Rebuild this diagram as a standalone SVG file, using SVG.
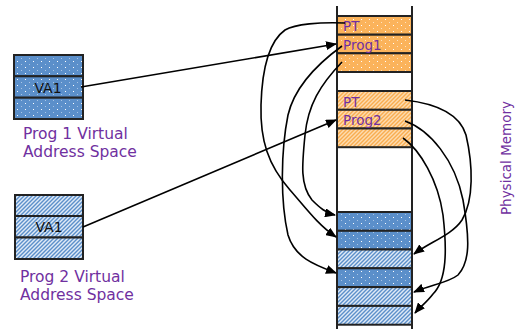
<svg xmlns="http://www.w3.org/2000/svg" width="520" height="329" viewBox="0 0 520 329">
<style>
.lbl{font-family:"DejaVu Sans","Liberation Sans",sans-serif;font-size:13.5px;fill:#7030a0}
.cap{font-family:"DejaVu Sans","Liberation Sans",sans-serif;font-size:15.5px;fill:#7030a0}
.va{font-family:"DejaVu Sans","Liberation Sans",sans-serif;font-size:14px;fill:#111;text-anchor:middle}
.row{stroke:#222;stroke-width:2}
.conn{fill:none;stroke:#000;stroke-width:1.6}
</style>
<defs>
<pattern id="dotO" width="8" height="6" patternUnits="userSpaceOnUse">
<rect width="8" height="6" fill="#fbb35b"/>
<rect x="1" y="1" width="1" height="1" fill="#fff"/>
<rect x="5" y="4" width="1" height="1" fill="#fde2bf"/>
</pattern>
<pattern id="dotB" width="8" height="6" patternUnits="userSpaceOnUse">
<rect width="8" height="6" fill="#5b8fca"/>
<rect x="1" y="1" width="1" height="1" fill="#fff"/>
<rect x="5" y="4" width="1" height="1" fill="#a9c5e6"/>
</pattern>
<pattern id="hatO" width="4" height="4" patternUnits="userSpaceOnUse">
<rect width="4" height="4" fill="#fddcb0"/>
<path d="M-1,1 L1,-1 M0,4 L4,0 M3,5 L5,3" stroke="#f9ad50" stroke-width="1.4"/>
</pattern>
<pattern id="hatB" width="4" height="4" patternUnits="userSpaceOnUse">
<rect width="4" height="4" fill="#dfeaf7"/>
<path d="M-1,1 L1,-1 M0,4 L4,0 M3,5 L5,3" stroke="#5b8fca" stroke-width="1.4"/>
</pattern>
<marker id="ah" markerWidth="11" markerHeight="9" refX="10" refY="4.5" orient="auto" markerUnits="userSpaceOnUse">
<path d="M0,0 L11,4.5 L0,9 z" fill="#000"/>
</marker>
</defs>

<g id="prog1-vas">
<rect x="14" y="55" width="69" height="21.3" fill="url(#dotB)" class="row"/>
<rect x="14" y="76.3" width="69" height="21.4" fill="url(#dotB)" class="row"/>
<rect x="14" y="97.7" width="69" height="21.3" fill="url(#dotB)" class="row"/>
<text class="va" x="48" y="92.5">VA1</text>
<text class="cap" x="23" y="139">Prog 1 Virtual</text>
<text class="cap" x="23" y="157">Address Space</text>
</g>

<g id="prog2-vas">
<rect x="15" y="195" width="68" height="21" fill="url(#hatB)" class="row"/>
<rect x="15" y="216" width="68" height="21.5" fill="url(#hatB)" class="row"/>
<rect x="15" y="237.5" width="68" height="21.5" fill="url(#hatB)" class="row"/>
<text class="va" x="49" y="232">VA1</text>
<text class="cap" x="20" y="282">Prog 2 Virtual</text>
<text class="cap" x="20" y="300">Address Space</text>
</g>

<g id="physical-memory">
<rect x="337" y="16" width="75" height="18.7" fill="url(#dotO)" class="row"/>
<rect x="337" y="34.7" width="75" height="18.6" fill="url(#dotO)" class="row"/>
<rect x="337" y="53.3" width="75" height="18.7" fill="url(#dotO)" class="row"/>
<rect x="337" y="91" width="75" height="18.8" fill="url(#hatO)" class="row"/>
<rect x="337" y="109.8" width="75" height="18.7" fill="url(#hatO)" class="row"/>
<rect x="337" y="128.5" width="75" height="18.7" fill="url(#hatO)" class="row"/>
<rect x="337" y="212" width="75" height="18.8" fill="url(#dotB)" class="row"/>
<rect x="337" y="230.8" width="75" height="18.7" fill="url(#dotB)" class="row"/>
<rect x="337" y="249.5" width="75" height="18.8" fill="url(#hatB)" class="row"/>
<rect x="337" y="268.3" width="75" height="18.8" fill="url(#dotB)" class="row"/>
<rect x="337" y="287.1" width="75" height="18.8" fill="url(#hatB)" class="row"/>
<rect x="337" y="305.9" width="75" height="18.8" fill="url(#hatB)" class="row"/>
<line x1="337" y1="6" x2="337" y2="329" class="row"/>
<line x1="412" y1="6" x2="412" y2="329" class="row"/>
<text class="lbl" x="343" y="31">PT</text>
<text class="lbl" x="343" y="49.5">Prog1</text>
<text class="lbl" x="343" y="106.5">PT</text>
<text class="lbl" x="343" y="125">Prog2</text>
<text class="lbl" x="0" y="0" font-size="12.8" text-anchor="middle" transform="translate(511,158) rotate(-90)">Physical Memory</text>
</g>

<g id="connectors">
<path class="conn" marker-end="url(#ah)" d="M81,87 L336,44"/>
<path class="conn" marker-end="url(#ah)" d="M83,227 L336,120"/>
<path class="conn" marker-end="url(#ah)" d="M345,23 C320,22 295,24 285,30 C268,42 262,70 261,105 C260,140 268,165 290,190 C305,207 318,225 336,237"/>
<path class="conn" marker-end="url(#ah)" d="M342,46 C320,62 295,85 288,115 C281,150 280,200 288,235 C295,258 315,265 336,273"/>
<path class="conn" marker-end="url(#ah)" d="M342,62 C320,85 308,105 305,135 C302,165 300,185 312,200 C320,208 326,213 335,215"/>
<path class="conn" marker-end="url(#ah)" d="M405,100 C440,104 460,115 466,135 C473,165 474,200 462,220 C452,235 430,242 414,254"/>
<path class="conn" marker-end="url(#ah)" d="M405,121 C430,130 455,160 463,200 C470,240 470,262 458,275 C448,283 430,285 414,292"/>
<path class="conn" marker-end="url(#ah)" d="M403,138 C420,150 438,180 443,215 C447,250 447,280 433,294 C427,302 420,307 415,313"/>
</g>
</svg>
